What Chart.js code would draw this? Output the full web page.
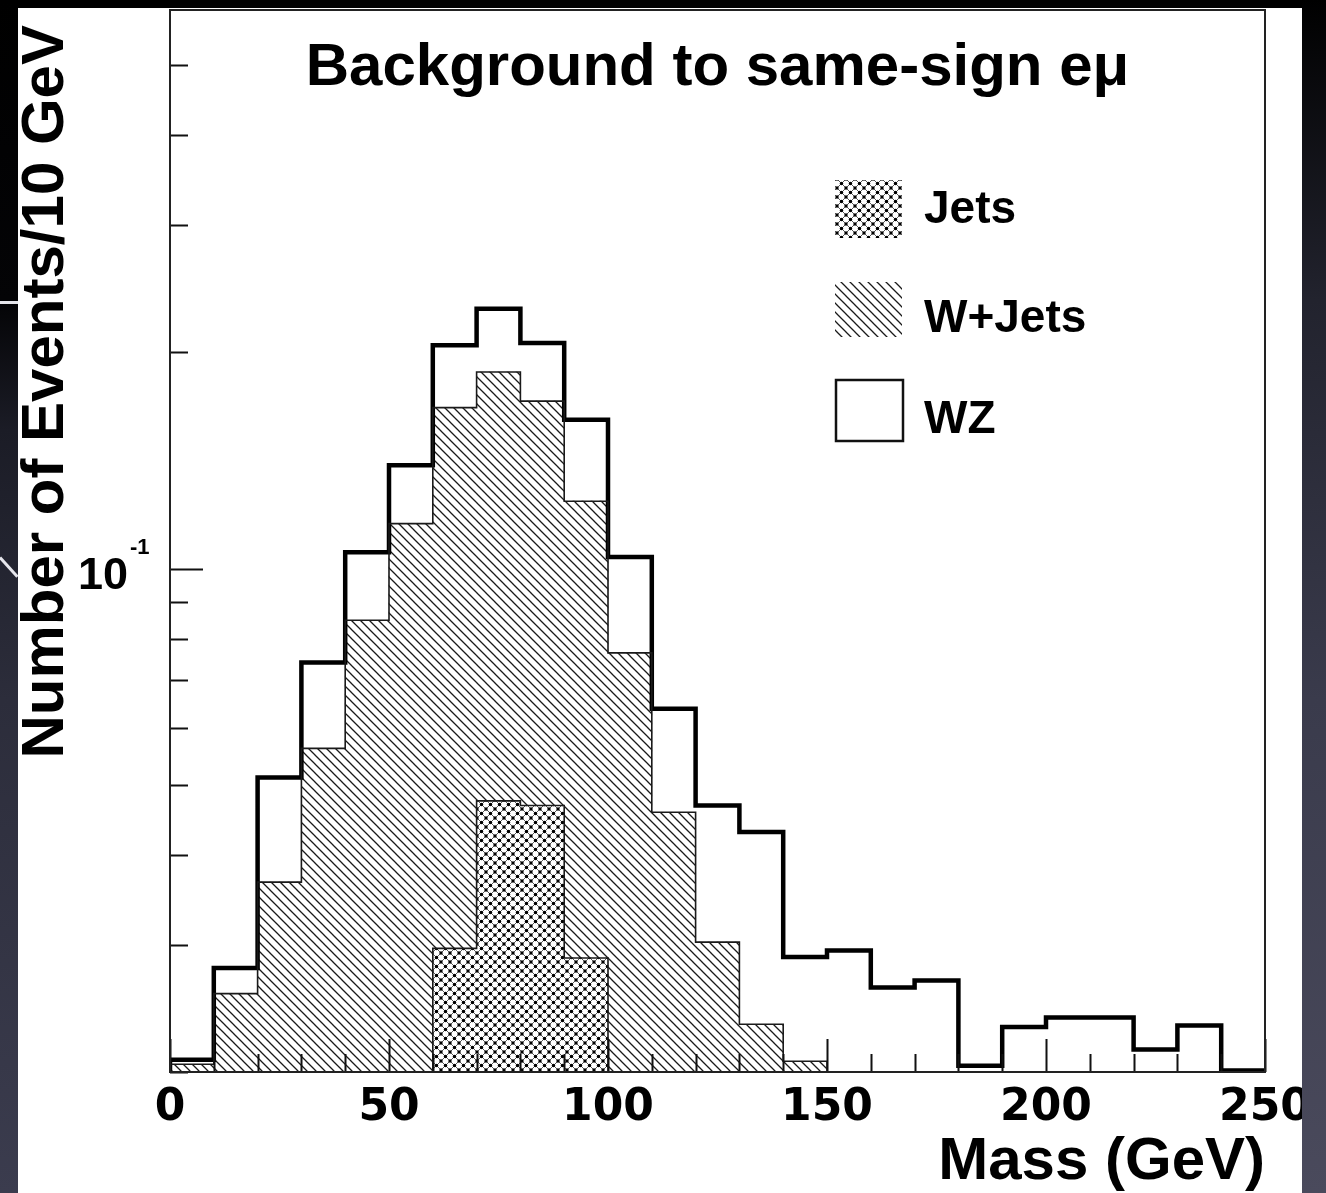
<!DOCTYPE html>
<html>
<head>
<meta charset="utf-8">
<title>Background to same-sign eμ</title>
<script src="https://cdn.jsdelivr.net/npm/chart.js@4.4.1/dist/chart.umd.min.js"></script>
<style>
  html, body { margin: 0; padding: 0; }
  body { width: 1326px; height: 1193px; position: relative; overflow: hidden; background: #000; }
  #leftStrip { position: absolute; left: 0; top: 0; width: 18px; height: 1193px;
    background: linear-gradient(to bottom, #000 0px, #040406 300px, #1b1c26 430px, #2c2d3b 700px, #3b3c4e 1193px); }
  #rightStrip { position: absolute; left: 1302px; top: 0; width: 24px; height: 1193px;
    background: linear-gradient(to bottom, #000 0px, #22232e 300px, #3a3b4c 700px, #4a4a5c 1193px); }
  .streak { position: absolute; height: 3px; background: #e6e6ec; transform-origin: 0 50%; }
  #plot { position: absolute; left: 18px; top: 8px; background: #fff; }
</style>
</head>
<body>
<div id="leftStrip"></div>
<div id="rightStrip"></div>
<div class="streak" style="left:0; top:301px; width:19px;"></div>
<div class="streak" style="left:0; top:556px; width:26px; transform: rotate(48deg);"></div>
<canvas id="plot" width="1284" height="1185"></canvas>
<script>
  // 10 GeV bins, lower edges
  const binLow = [0, 10, 20, 30, 40, 50, 60, 70, 80, 90, 100, 110, 120,
                  130, 140, 150, 160, 170, 180, 190, 200, 210, 220, 230, 240];
  const binWidth = 10;

  // stacked heights, events / 10 GeV (Jets, Jets+W+Jets, Jets+W+Jets+WZ)
  const jetsStack = [null, null, null, null, null, null, 0.0297, 0.0476, 0.0469, 0.0288,
                     null, null, null, null, null, null, null, null, null, null,
                     null, null, null, null, null];
  const wjetsStack = [0.0205, 0.0257, 0.0367, 0.0563, 0.0848, 0.1155, 0.1674, 0.1876, 0.1709, 0.1241,
                      0.0764, 0.0459, 0.0303, 0.0233, 0.0207, null, null, null, null, null,
                      null, null, null, null, null];
  const wzStack = [0.0208, 0.0279, 0.0513, 0.0741, 0.1054, 0.1392, 0.2043, 0.2297, 0.2058, 0.1610,
                   0.1038, 0.0639, 0.0469, 0.0431, 0.0289, 0.0295, 0.0262, 0.0268, 0.0204, 0.0231,
                   0.0238, 0.0238, 0.0215, 0.0232, 0.0201];

  const seriesNames = ['Jets', 'W+Jets', 'WZ'];
  const plotTitle = 'Background to same-sign eμ';
  const xTitle = 'Mass (GeV)';
  const yTitle = 'Number of Events/10 GeV';
  const xRange = [0, 250];
  const yRange = [0.02, 0.597];
  const xMajorStep = 50;
  const yMinorTicks = [0.02, 0.03, 0.04, 0.05, 0.06, 0.07, 0.08, 0.09, 0.2, 0.3, 0.4, 0.5];
  const yMajorTicks = [0.1];

  const labelFont = '"Liberation Sans", Arial, sans-serif';

  function hatchPattern() {
    const s = 9;
    const c = document.createElement('canvas');
    c.width = c.height = s;
    const g = c.getContext('2d');
    g.fillStyle = '#fff';
    g.fillRect(0, 0, s, s);
    g.strokeStyle = '#1a1a1a';
    g.lineWidth = 1.3;
    g.beginPath();
    g.moveTo(-2, -2); g.lineTo(s + 2, s + 2);
    g.moveTo(-2, s - 2); g.lineTo(2, s + 2);
    g.moveTo(s - 2, -2); g.lineTo(s + 2, 2);
    g.stroke();
    return g.createPattern(c, 'repeat');
  }

  function crossPattern() {
    const s = 9;
    const c = document.createElement('canvas');
    c.width = c.height = s;
    const g = c.getContext('2d');
    g.fillStyle = '#fff';
    g.fillRect(0, 0, s, s);
    g.strokeStyle = '#555';
    g.lineWidth = 1;
    g.beginPath();
    g.moveTo(-2, -2); g.lineTo(s + 2, s + 2);
    g.moveTo(s + 2, -2); g.lineTo(-2, s + 2);
    g.stroke();
    g.fillStyle = '#000';
    [[s / 2, s / 2], [0, 0], [s, 0], [0, s], [s, s]].forEach(([x, y]) => {
      g.beginPath();
      g.arc(x, y, 1.7, 0, Math.PI * 2);
      g.fill();
    });
    return g.createPattern(c, 'repeat');
  }

  const hatch = hatchPattern();
  const cross = crossPattern();

  const barPoints = vals => vals.map((v, i) => ({ x: binLow[i] + binWidth / 2, y: v }));

  // histogram contour: starts and ends on the axis, empty bins sit on the axis
  function stepOutline(vals) {
    const pts = [{ x: binLow[0], y: yRange[0] }];
    vals.forEach((v, i) => pts.push({ x: binLow[i], y: v == null ? yRange[0] : v }));
    pts.push({ x: binLow[binLow.length - 1] + binWidth, y: yRange[0] });
    return pts;
  }

  const barStyle = { barPercentage: 1, categoryPercentage: 1, borderWidth: 0, grouped: false };
  // 'before' = horizontal run at the previous value, then vertical to the next one
  const lineStyle = { type: 'line', stepped: 'before', pointRadius: 0, fill: false, order: 0 };

  const decor = {
    id: 'rootDecor',
    afterDatasetsDraw(chart) {
      const { ctx, chartArea: a, scales: { x, y } } = chart;
      ctx.save();

      // inward tick marks, ROOT style
      ctx.strokeStyle = '#111';
      ctx.lineWidth = 2;
      ctx.beginPath();
      for (let v = xRange[0]; v <= xRange[1]; v += binWidth) {
        const px = Math.round(x.getPixelForValue(v)) + 0.5;
        const len = v % xMajorStep === 0 ? 33 : 18;
        ctx.moveTo(px, a.bottom);
        ctx.lineTo(px, a.bottom - len);
      }
      yMinorTicks.concat(yMajorTicks).forEach(v => {
        const py = Math.round(y.getPixelForValue(v)) + 0.5;
        const len = yMajorTicks.includes(v) ? 33 : 18;
        ctx.moveTo(a.left, py);
        ctx.lineTo(a.left + len, py);
      });
      ctx.stroke();

      // frame
      ctx.lineWidth = 2;
      ctx.strokeStyle = '#222';
      ctx.strokeRect(a.left, a.top, a.right - a.left, a.bottom - a.top);

      // y tick label 10^-1
      ctx.fillStyle = '#000';
      yMajorTicks.forEach(v => {
        const py = y.getPixelForValue(v);
        const exp = Math.round(Math.log10(v));
        ctx.font = 'bold 45px ' + labelFont;
        ctx.textAlign = 'right';
        ctx.textBaseline = 'alphabetic';
        ctx.fillText('10', a.left - 42, py + 20);
        ctx.font = 'bold 22px ' + labelFont;
        ctx.textAlign = 'left';
        ctx.fillText(String(exp), a.left - 40, py - 15);
      });

      // title inside the frame
      ctx.font = 'bold 60px ' + labelFont;
      ctx.textAlign = 'center';
      ctx.fillText(plotTitle, (a.left + a.right) / 2, a.top + 75);

      // y axis title, end-aligned to the top of the axis
      ctx.save();
      ctx.translate(45, a.top + 15);
      ctx.rotate(-Math.PI / 2);
      ctx.textAlign = 'right';
      ctx.fillText(yTitle, 0, 0);
      ctx.restore();

      // legend
      const lx = a.left + 665;
      const boxes = [
        { top: a.top + 170, h: 58, fill: cross, border: false, base: a.top + 213 },
        { top: a.top + 272, h: 55, fill: hatch, border: false, base: a.top + 322 },
        { top: a.top + 370, h: 61, fill: '#fff', border: true, base: a.top + 423 }
      ];
      ctx.font = 'bold 46px ' + labelFont;
      ctx.textAlign = 'left';
      boxes.forEach((b, i) => {
        ctx.fillStyle = b.fill;
        ctx.fillRect(lx, b.top, 67, b.h);
        if (b.border) {
          ctx.lineWidth = 2.5;
          ctx.strokeStyle = '#111';
          ctx.strokeRect(lx + 1, b.top, 67, b.h);
        }
        ctx.fillStyle = '#000';
        ctx.fillText(seriesNames[i], lx + 89, b.base);
      });

      ctx.restore();
    }
  };

  new Chart(document.getElementById('plot'), {
    type: 'bar',
    data: {
      datasets: [
        { label: seriesNames[0], data: barPoints(jetsStack), backgroundColor: cross, order: 1, ...barStyle },
        { label: seriesNames[1], data: barPoints(wjetsStack), backgroundColor: hatch, order: 2, ...barStyle },
        { label: seriesNames[2], data: barPoints(wzStack), backgroundColor: '#fff', order: 3, ...barStyle },
        { label: 'Jets contour', data: stepOutline(jetsStack), borderColor: '#1a1a1a', borderWidth: 1.6, ...lineStyle },
        { label: 'W+Jets contour', data: stepOutline(wjetsStack), borderColor: '#1a1a1a', borderWidth: 1.6, ...lineStyle },
        { label: 'WZ contour', data: stepOutline(wzStack), borderColor: '#000', borderWidth: 4.5, ...lineStyle }
      ]
    },
    options: {
      responsive: false,
      animation: false,
      devicePixelRatio: 1,
      layout: { padding: { left: 0, top: 2, right: 37, bottom: 0 }, autoPadding: false },
      plugins: { legend: { display: false }, tooltip: { enabled: false } },
      scales: {
        x: {
          type: 'linear',
          min: xRange[0],
          max: xRange[1],
          offset: false,
          grid: { display: false, drawTicks: false },
          border: { display: false },
          ticks: {
            stepSize: xMajorStep,
            autoSkip: false,
            maxRotation: 0,
            padding: 10,
            color: '#000',
            font: { family: '"DejaVu Sans", sans-serif', weight: 'bold', size: 44 }
          },
          title: {
            display: true,
            text: xTitle,
            align: 'end',
            color: '#000',
            padding: { top: 0, bottom: 1 },
            font: { family: labelFont, weight: 'bold', size: 60, lineHeight: 1 }
          },
          // the last label may run off the edge, as in the original plot
          afterFit: s => { s.height = 121; s.paddingLeft = 0; s.paddingRight = 0; }
        },
        y: {
          type: 'logarithmic',
          min: yRange[0],
          max: yRange[1],
          grid: { display: false },
          border: { display: false },
          ticks: { display: false },
          afterFit: s => { s.width = 152; }
        }
      }
    },
    plugins: [decor]
  });
</script>
</body>
</html>
